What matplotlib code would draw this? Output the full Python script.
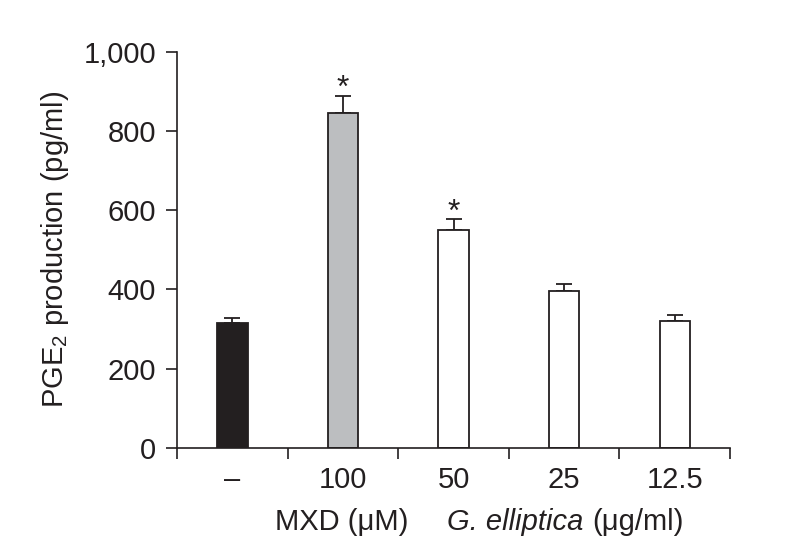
import numpy as np
import matplotlib
matplotlib.use("Agg")
import matplotlib.pyplot as plt

plt.rcParams['font.family'] = ['Liberation Sans', 'DejaVu Sans']
plt.rcParams['mathtext.fontset'] = 'custom'
plt.rcParams['mathtext.rm'] = 'Liberation Sans'

# data
labels = ["\u2013", "100", "50", "25", "12.5"]
values = [316, 846, 549, 397, 319]
errors = [11, 43, 28, 16, 15]
colors = ["#231f20", "#bcbec0", "white", "white", "white"]
significant = [False, True, True, False, False]

ink = "#231f20"

fig = plt.figure(figsize=(7.98, 5.53), dpi=100)
ax = fig.add_axes([0.2218, 0.1905, 0.693, 0.7155])

x = np.arange(len(values)) + 0.5
ax.bar(x, values, width=0.275, color=colors, edgecolor=ink, linewidth=1.3, zorder=2)
ax.errorbar(x, values, yerr=[np.zeros(len(errors)), errors], fmt="none",
            ecolor=ink, elinewidth=1.3, capsize=5.8, capthick=1.3, zorder=1)

# significance marks
for xi, v, e, s in zip(x, values, errors, significant):
    if s:
        ax.annotate("*", (xi, v + e), xytext=(0, -1), textcoords="offset points",
                    ha="center", va="baseline", fontsize=23, color=ink)

ax.set_xlim(0, 5)
ax.set_ylim(0, 1000)
ax.set_xticks(np.arange(6))
ax.set_xticklabels([])
ax.set_xticks(x, minor=True)
ax.set_xticklabels(labels, minor=True, fontsize=21, color=ink)
ax.tick_params(axis="x", which="major", direction="out", length=8, width=1.2, color=ink)
ax.tick_params(axis="x", which="minor", length=0, pad=13)
ax.set_yticks(np.arange(0, 1001, 200))
ax.set_yticklabels(["0", "200", "400", "600", "800", "1,000"], fontsize=21, color=ink)
ax.tick_params(axis="y", direction="out", length=8, width=1.2, color=ink, pad=7)

for side in ["top", "right"]:
    ax.spines[side].set_visible(False)
for side in ["left", "bottom"]:
    ax.spines[side].set_linewidth(1.2)
    ax.spines[side].set_color(ink)

ax.set_ylabel("PGE$_2$ production (pg/ml)", fontsize=21, color=ink)
ax.yaxis.set_label_coords(-0.192, 0.5)

fig.text(0.345, 0.056, "MXD (\u03bcM)", ha="left", va="center", fontsize=21, color=ink)
fig.text(0.560, 0.056, "G. elliptica", ha="left", va="center", fontsize=21,
         style="italic", color=ink)
fig.text(0.742, 0.056, "(\u03bcg/ml)", ha="left", va="center", fontsize=21, color=ink)

fig.savefig("out.png", dpi=100)
